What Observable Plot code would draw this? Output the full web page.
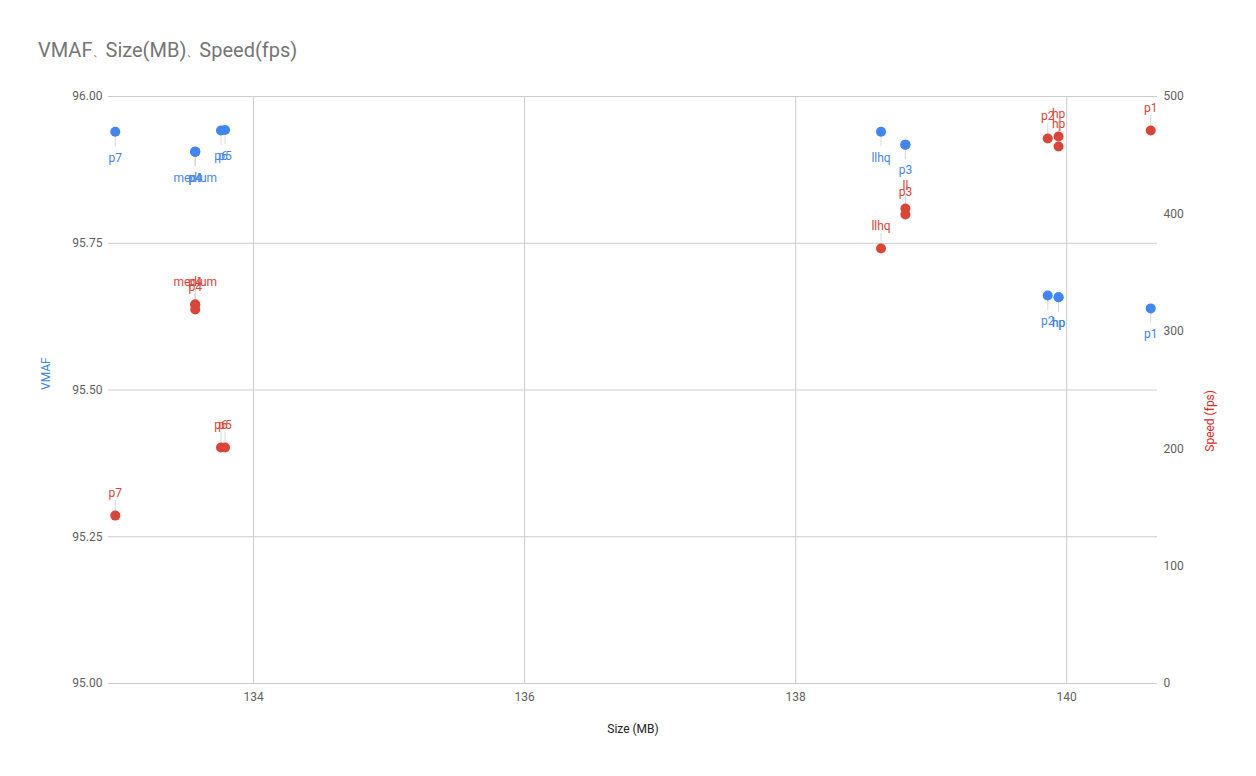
<!DOCTYPE html>
<html>
<head>
<meta charset="utf-8">
<script src="https://cdn.jsdelivr.net/npm/d3@7"></script>
<script src="https://cdn.jsdelivr.net/npm/@observablehq/plot@0.6"></script>
<style>
  html, body { margin: 0; padding: 0; background: #fff; }
  #wrap { width: 1256px; height: 776px; position: relative; overflow: hidden; font-family: Roboto, "Noto Sans CJK JP", sans-serif; }
  #head { height: 76px; position: relative; }
  #title { position: absolute; left: 38px; top: 38px; font-size: 20px; line-height: 24px; color: #757575; white-space: nowrap; }
  #title .sep { font-size: 9px; margin: 0 3px 0 1px; }
  svg { display: block; }
</style>
</head>
<body>
<div id="wrap">
  <div id="head"><div id="title">VMAF<span class="sep">、</span>Size(MB)<span class="sep">、</span>Speed(fps)</div></div>
  <div id="chart"></div>
</div>
<script>
// ---- data ----
const names    = ["p7", "medium", "p4", "p4", "p6", "p5", "llhq", "ll", "p3", "p2", "hp", "hp", "p1"];
const sizeMB   = [132.98, 133.57, 133.57, 133.57, 133.76, 133.79, 138.63, 138.81, 138.81, 139.86, 139.94, 139.94, 140.62];
const vmaf     = [95.940, 95.906, 95.906, 95.906, 95.942, 95.943, 95.940, 95.918, 95.918, 95.661, 95.658, 95.658, 95.639];
const speedFps = [143.0, 322.8, 322.8, 318.6, 201.0, 201.0, 370.5, 404.6, 399.5, 464.2, 465.9, 457.4, 471.0];
// VMAF annotations hidden by the chart where they collide with another (only "ll" under "p3")
const vmafLabelHidden = ["ll"];

const xTicks     = [134, 136, 138, 140];
const vmafTicks  = [95.00, 95.25, 95.50, 95.75, 96.00];
const speedTicks = [0, 100, 200, 300, 400, 500];

const vmafDomain  = [95, 96];
const speedDomain = [0, 500];
const xDomain     = [132.93, 140.67];

const BLUE = "#4285f4", RED = "#db4437", GRID = "#cccccc", TICK = "#616161";

// map speed onto the VMAF (left) scale
const toLeft = s => vmafDomain[0] + (s - speedDomain[0]) / (speedDomain[1] - speedDomain[0]) * (vmafDomain[1] - vmafDomain[0]);
const fromLeft = v => speedDomain[0] + (v - vmafDomain[0]) / (vmafDomain[1] - vmafDomain[0]) * (speedDomain[1] - speedDomain[0]);

const rows = names.map((n, i) => ({name: n, size: sizeMB[i], vmaf: vmaf[i], speed: speedFps[i], speedY: toLeft(speedFps[i])}));

const W = 1256, H = 700, mTop = 20, mBottom = 93, mLeft = 108, mRight = 99;
const plotH = H - mTop - mBottom;
const stem = 15 / plotH * (vmafDomain[1] - vmafDomain[0]);

const chart = Plot.plot({
  width: W, height: H,
  marginTop: mTop, marginBottom: mBottom, marginLeft: mLeft, marginRight: mRight,
  style: {fontFamily: "Roboto, sans-serif", fontSize: "12px", background: "#fff"},
  x: {domain: xDomain},
  y: {domain: vmafDomain},
  marks: [
    Plot.gridX(xTicks, {stroke: GRID, strokeOpacity: 1}),
    Plot.gridY(vmafTicks, {stroke: GRID, strokeOpacity: 1}),
    Plot.axisX(xTicks, {tickSize: 0, tickPadding: 9, label: null, fill: TICK, fontSize: 12, tickFormat: d => String(d)}),
    Plot.axisY(vmafTicks, {anchor: "left", tickSize: 0, tickPadding: 6, label: null, fill: TICK, fontSize: 12, tickFormat: d => d.toFixed(2)}),
    Plot.axisY(speedTicks.map(toLeft), {anchor: "right", tickSize: 0, tickPadding: 6, label: null, fill: TICK, fontSize: 12, tickFormat: d => String(Math.round(fromLeft(d)))}),
    // axis titles
    Plot.text(["Size (MB)"], {frameAnchor: "bottom", dy: 49, fill: "#222", fontSize: 12}),
    Plot.text(["VMAF"], {frameAnchor: "left", dx: -62, rotate: -90, fill: BLUE, fontSize: 12}),
    Plot.text(["Speed (fps)"], {frameAnchor: "right", dx: 53, rotate: -90, fill: "#e8281e", fontSize: 12}),
    // leader stems
    Plot.ruleX(rows, {x: "size", y1: "vmaf", y2: d => d.vmaf - stem, stroke: "#d9d9d9", strokeWidth: 1}),
    Plot.ruleX(rows, {x: "size", y1: "speedY", y2: d => d.speedY + stem, stroke: "#d9d9d9", strokeWidth: 1}),
    // points
    Plot.dot(rows, {x: "size", y: "vmaf", r: 5, fill: BLUE}),
    Plot.dot(rows, {x: "size", y: "speedY", r: 5, fill: RED}),
    // annotations
    Plot.text(rows.filter(d => !vmafLabelHidden.includes(d.name)), {x: "size", y: "vmaf", text: "name", dy: 26, fill: BLUE, fontSize: 12}),
    Plot.text(rows, {x: "size", y: "speedY", text: "name", dy: -22, fill: RED, fontSize: 12})
  ]
});
document.getElementById("chart").appendChild(chart);
</script>
</body>
</html>
